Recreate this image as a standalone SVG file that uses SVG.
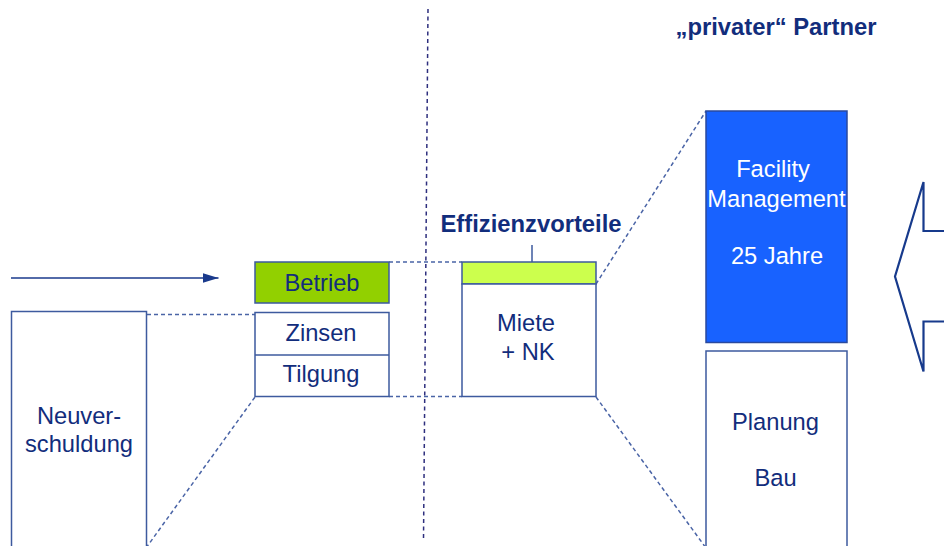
<svg xmlns="http://www.w3.org/2000/svg" width="944" height="546" viewBox="0 0 944 546">
  <style>
    .box { fill: #ffffff; stroke: #3d5a9e; stroke-width: 1.5; }
    .lbl { font-family: "Liberation Sans", Arial, sans-serif; font-size: 23.7px; fill: #122d7c; text-anchor: middle; }
    .head { font-family: "Liberation Sans", Arial, sans-serif; font-size: 23.8px; font-weight: bold; fill: #122d7c; text-anchor: middle; }
    .white { fill: #ffffff; }
    .guide { fill: none; stroke: #4a64a6; stroke-width: 1.5; stroke-dasharray: 4 3; }
    .divider { fill: none; stroke: #2e2f7e; stroke-width: 1.5; stroke-dasharray: 4 3.5; }
  </style>
  <defs>
    <marker id="tri" viewBox="0 0 16 10" refX="16" refY="5" markerWidth="16" markerHeight="10" markerUnits="userSpaceOnUse" orient="auto">
      <path d="M0,0 L16,5 L0,10 Z" fill="#1a3a8c"/>
    </marker>
  </defs>

  <rect width="944" height="546" fill="#ffffff"/>

  <!-- connectors and guide lines -->
  <g id="connectors">
    <line class="divider" x1="428" y1="9" x2="423.5" y2="540"/>
    <line x1="11" y1="278" x2="218.5" y2="278" stroke="#1a3a8c" stroke-width="1.5" marker-end="url(#tri)"/>
    <line class="guide" x1="147" y1="314.5" x2="255" y2="314.5"/>
    <line class="guide" x1="146" y1="548" x2="255" y2="397"/>
    <line class="guide" x1="389" y1="262" x2="462" y2="262"/>
    <line class="guide" x1="389" y1="396.5" x2="462" y2="396.5"/>
    <line class="guide" x1="596" y1="284" x2="706" y2="111"/>
    <line class="guide" x1="596" y1="397" x2="706" y2="548"/>
    <line x1="532" y1="245" x2="532" y2="262" stroke="#3d5a9e" stroke-width="1.5"/>
  </g>

  <g id="neuverschuldung">
    <rect class="box" x="11.5" y="311.5" width="135" height="240"/>
    <text class="lbl" x="79" y="424">Neuver-</text>
    <text class="lbl" x="79" y="451.5">schuldung</text>
  </g>

  <g id="betrieb">
    <rect x="255" y="262" width="134" height="41" fill="#92d000" stroke="#3d5a9e" stroke-width="1.5"/>
    <text class="lbl" x="322" y="291">Betrieb</text>
  </g>

  <g id="finanzierung">
    <rect class="box" x="255" y="312.5" width="134" height="84"/>
    <line x1="255" y1="355" x2="389" y2="355" stroke="#3d5a9e" stroke-width="1.5"/>
    <text class="lbl" x="321" y="340.5">Zinsen</text>
    <text class="lbl" x="321" y="381.5">Tilgung</text>
  </g>

  <g id="effizienzvorteile">
    <text class="head" x="531" y="231.5">Effizienzvorteile</text>
    <rect x="462" y="262" width="134" height="22" fill="#ccff4d" stroke="#3d5a9e" stroke-width="1.5"/>
  </g>

  <g id="miete">
    <rect class="box" x="462" y="284" width="134" height="112.5"/>
    <text class="lbl" x="526" y="331">Miete</text>
    <text class="lbl" x="528" y="360">+ NK</text>
  </g>

  <g id="partner-titel">
    <text class="head" x="776" y="34.5">„privater“ Partner</text>
  </g>

  <g id="facility-management">
    <rect x="706" y="111" width="141" height="231.5" fill="#1862ff" stroke="#2a4a9e" stroke-width="1.5"/>
    <text class="lbl white" x="773" y="177">Facility</text>
    <text class="lbl white" x="776.5" y="206.5">Management</text>
    <text class="lbl white" x="777" y="263.5">25 Jahre</text>
  </g>

  <g id="planung-bau">
    <rect class="box" x="706" y="351" width="141" height="200"/>
    <text class="lbl" x="775.5" y="429.5">Planung</text>
    <text class="lbl" x="775.5" y="485.5">Bau</text>
  </g>

  <g id="pfeil-links">
    <path d="M947,231 L923.5,231 L923.5,182 L895,276.5 L923.5,371.5 L923.5,321.5 L947,321.5" fill="#ffffff" stroke="#173a8c" stroke-width="2.2" stroke-linejoin="miter"/>
  </g>
</svg>
